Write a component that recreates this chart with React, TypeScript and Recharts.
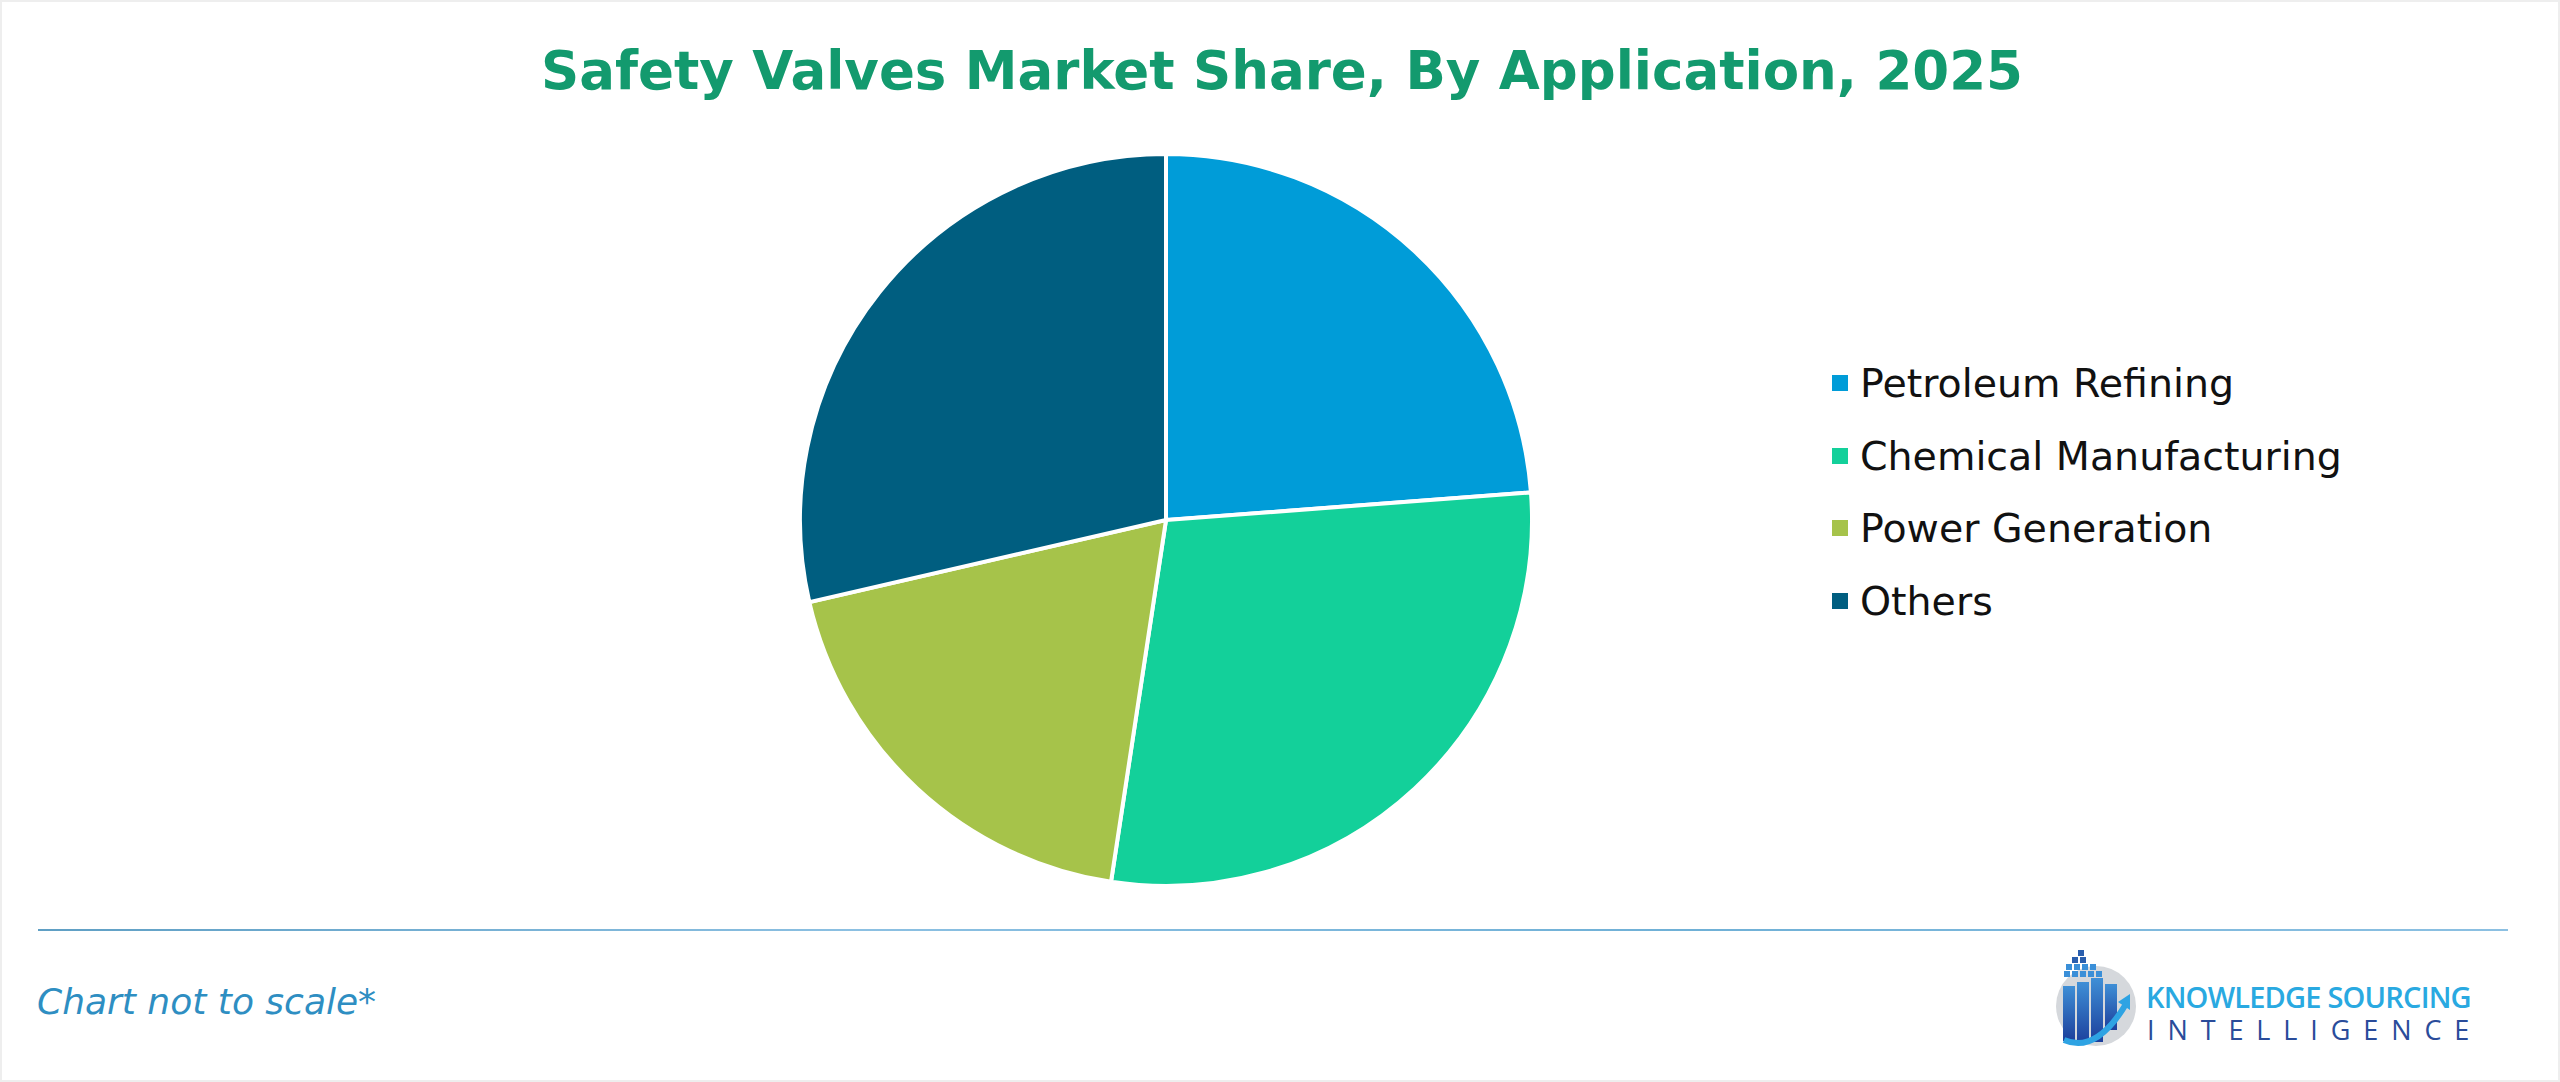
import React from "react";
import { PieChart, Pie, Cell, Legend } from "recharts";

// shares (percent of the circle)
const categories = ["Petroleum Refining", "Chemical Manufacturing", "Power Generation", "Others"];
const shares = [23.8, 28.6, 19.0, 28.6];
const colors = ["#009cd8", "#13d09a", "#a6c34a", "#005e80"];

const data = categories.map((name, i) => ({ name, value: shares[i] }));

const W = 2560;
const H = 1082;

const LegendList = () => (
    <div style={{ fontFamily: "'DejaVu Sans', Verdana, sans-serif", fontSize: 39.5, color: "#111" }}>
        {categories.map((c, i) => (
            <div key={c} style={{ display: "flex", alignItems: "center", height: 72.5 }}>
                <span style={{ width: 16, height: 16, background: colors[i], marginRight: 12, display: "inline-block" }} />
                <span>{c}</span>
            </div>
        ))}
    </div>
);

const Logo = () => (
    <div style={{ position: "absolute", left: 2054, top: 942, width: 440, height: 110 }}>
        <svg width={80} height={108} viewBox="0 0 80 108">
            <defs>
                <linearGradient id="bars" x1="0" y1="0" x2="0" y2="1">
                    <stop offset="0" stopColor="#3f8fd6" />
                    <stop offset="1" stopColor="#1c3f9c" />
                </linearGradient>
            </defs>
            <circle cx={40} cy={62} r={40} fill="#d5d8dc" />
            <rect x={7} y={42} width={12} height={55} fill="url(#bars)" />
            <rect x={21} y={38} width={12} height={62} fill="url(#bars)" />
            <rect x={35} y={34} width={12} height={64} fill="url(#bars)" />
            <rect x={49} y={40} width={12} height={46} fill="url(#bars)" />
            {[[22, 2], [16, 9], [24, 9], [10, 16], [18, 16], [26, 16], [34, 16], [8, 23], [16, 23], [24, 23], [32, 23], [40, 23]].map(([x, y], k) => (
                <rect key={k} x={x} y={y + 4} width={6} height={6} fill={k < 3 ? "#2a5fae" : "#3a8fd8"} />
            ))}
            <path d="M8 96 Q40 110 70 60" stroke="#2ea3e3" strokeWidth={6} fill="none" />
            <path d="M62 58 L74 50 L74 66 Z" fill="#2ea3e3" />
        </svg>
        <div style={{ position: "absolute", left: 90, top: 38, fontFamily: "'Open Sans', sans-serif", fontSize: 29, fontWeight: 600, color: "#29a9e1", letterSpacing: -0.8, lineHeight: 1 }}>
            KNOWLEDGE SOURCING
        </div>
        <div style={{ position: "absolute", left: 91, top: 72, fontFamily: "'Open Sans', sans-serif", fontSize: 27, color: "#2a4c9a", letterSpacing: 12.9, lineHeight: 1 }}>
            INTELLIGENCE
        </div>
    </div>
);

export default function App() {
    return (
        <div style={{ position: "absolute", left: 0, top: 0, width: W, height: H, background: "#fff", boxSizing: "border-box", border: "2px solid #eeeeee", overflow: "hidden" }}>
            <div style={{ position: "absolute", left: 0, top: 37, width: W, textAlign: "center", fontFamily: "'DejaVu Sans', Verdana, sans-serif", fontWeight: "bold", fontSize: 53, color: "#139a6e", lineHeight: 1.2 }}>
                Safety Valves Market Share, By Application, 2025
            </div>
            <div style={{ position: "absolute", left: 0, top: 0 }}>
                <PieChart width={W} height={H}>
                    <Pie
                        data={data}
                        dataKey="value"
                        nameKey="name"
                        cx={1159}
                        cy={513}
                        outerRadius={366}
                        startAngle={90}
                        endAngle={-270}
                        stroke="#ffffff"
                        strokeWidth={4}
                        isAnimationActive={false}
                    >
                        {data.map((d, i) => (
                            <Cell key={d.name} fill={colors[i]} />
                        ))}
                    </Pie>
                    <Legend
                        layout="vertical"
                        content={() => <LegendList />}
                        wrapperStyle={{ left: 1830, top: 345, width: 640 }}
                    />
                </PieChart>
            </div>
            <div style={{ position: "absolute", left: 36, top: 927, width: 2470, height: 2, background: "linear-gradient(to right, #5f9fc4, #8cc0e2, #6fb0d6, #8cc0e2)" }} />
            <div style={{ position: "absolute", left: 35, top: 979, fontFamily: "'DejaVu Sans', Verdana, sans-serif", fontStyle: "italic", fontSize: 36, color: "#2e8ec2" }}>
                Chart not to scale*
            </div>
            <Logo />
        </div>
    );
}
